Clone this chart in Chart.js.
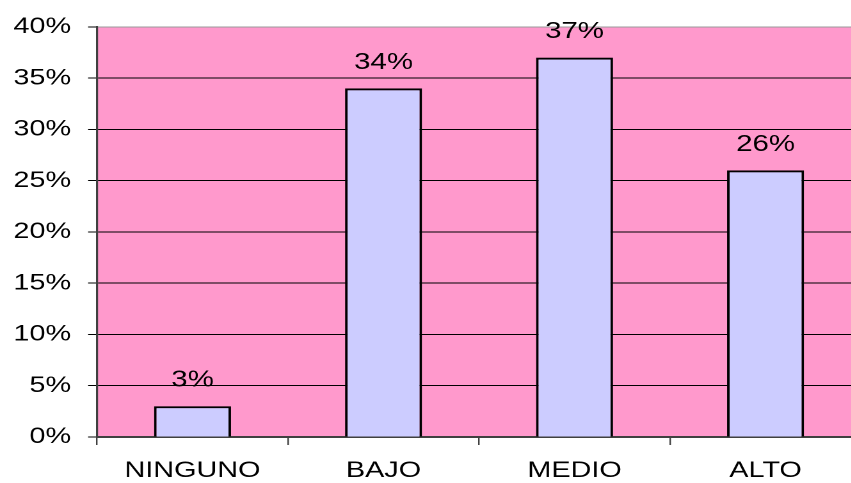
<!DOCTYPE html>
<html>
<head>
<meta charset="utf-8">
<script src="https://cdn.jsdelivr.net/npm/chart.js@4/dist/chart.umd.min.js"></script>
<style>
  html, body { margin: 0; padding: 0; background: #fff; overflow: hidden; width: 851px; height: 483px; }
  #wrap { position: absolute; left: 0; top: 0; transform: scaleX(1.28); transform-origin: 0 0; }
</style>
</head>
<body>
<div id="wrap"><canvas id="c" width="680" height="483"></canvas></div>
<script>
const categories = ['NINGUNO', 'BAJO', 'MEDIO', 'ALTO'];
const values = [3, 34, 37, 26];
const yTickValues = [0, 5, 10, 15, 20, 25, 30, 35, 40];

const bgPlugin = {
  id: 'plotBg',
  beforeDraw(chart) {
    const { ctx, chartArea: a } = chart;
    ctx.save();
    ctx.fillStyle = '#FF99CC';
    ctx.fillRect(a.left, a.top, a.right - a.left, a.bottom - a.top);
    ctx.restore();
  }
};

const labelPlugin = {
  id: 'valueLabels',
  afterDatasetsDraw(chart) {
    const { ctx } = chart;
    const meta = chart.getDatasetMeta(0);
    ctx.save();
    ctx.fillStyle = '#000';
    ctx.font = '23px "Liberation Sans", Arial, sans-serif';
    ctx.textAlign = 'center';
    ctx.textBaseline = 'alphabetic';
    meta.data.forEach((bar, i) => {
      ctx.fillText(values[i] + '%', bar.x, bar.y - 19.5);
    });
    ctx.restore();
  }
};

new Chart(document.getElementById('c'), {
  type: 'bar',
  data: {
    labels: categories,
    datasets: [{
      data: values,
      backgroundColor: '#CCCCFF',
      borderColor: '#000',
      borderWidth: 2,
      categoryPercentage: 1,
      barPercentage: 0.403
    }]
  },
  options: {
    responsive: false,
    animation: false,
    devicePixelRatio: 2,
    layout: { padding: { top: 25, right: 7.3, left: 0, bottom: 0 } },
    plugins: { legend: { display: false }, tooltip: { enabled: false } },
    scales: {
      x: {
        offset: true,
        afterFit(s) { s.height = 46; },
        grid: { display: true, drawOnChartArea: false, drawTicks: true, tickLength: 8, color: '#404040', lineWidth: 1.2, offset: true },
        border: { display: true, color: '#404040', width: 2 },
        ticks: { color: '#000', padding: 12.5, font: { family: '"Liberation Sans", Arial, sans-serif', size: 22.5 }, maxRotation: 0 }
      },
      y: {
        min: 0, max: 40,
        afterFit(s) { s.width = 75.8; },
        afterBuildTicks(s) { s.ticks = yTickValues.map(v => ({ value: v })); },
        grid: {
          color: (c) => (c.tick && c.tick.value === 40) ? '#9a9a9a' : '#000',
          tickColor: '#000',
          lineWidth: 1,
          tickLength: 7,
          drawTicks: true
        },
        border: { display: true, color: '#404040', width: 1.6 },
        ticks: {
          color: '#000',
          padding: 13.3,
          font: { family: '"Liberation Sans", Arial, sans-serif', size: 22.5 },
          callback: (v) => v + '%'
        }
      }
    }
  },
  plugins: [bgPlugin, labelPlugin]
});
</script>
</body>
</html>
